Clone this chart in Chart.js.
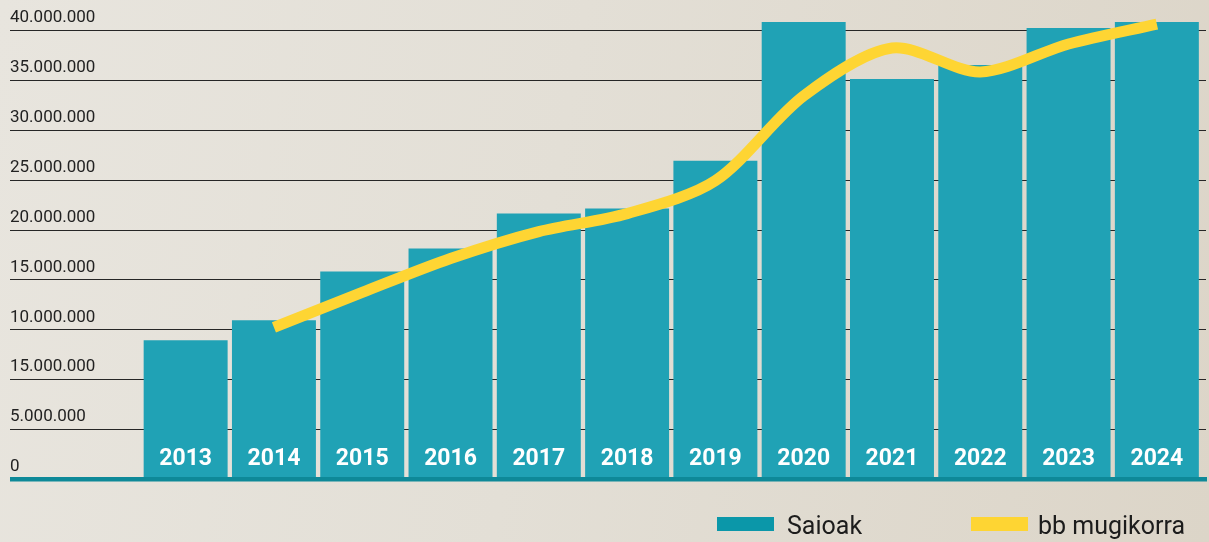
<!DOCTYPE html>
<html>
<head>
<meta charset="utf-8">
<script src="https://cdn.jsdelivr.net/npm/chart.js@4.4.1/dist/chart.umd.min.js"></script>
<style>
  html, body { margin: 0; padding: 0; }
  body {
    width: 1209px; height: 542px; overflow: hidden; position: relative;
    background: linear-gradient(100deg, #e8e5de 0%, #e3dfd6 45%, #dcd5c8 100%);
    font-family: Roboto, "DejaVu Sans", sans-serif;
  }
  #wrap { position: absolute; left: 0; top: 0; width: 1209px; height: 542px; }
  .box { position: absolute; width: 57px; height: 14px; }
  .txt { position: absolute; font-size: 25px; color: #1c1c1c; line-height: 1; white-space: nowrap; }
</style>
</head>
<body>
<div id="wrap"><canvas id="c" width="1209" height="542"></canvas></div>
<div class="box" style="left:717px; top:517px; background:#0b97a9;"></div>
<div class="txt" style="left:787px; top:513px;">Saioak</div>
<div class="box" style="left:971px; top:517px; background:#fed533;"></div>
<div class="txt" style="left:1038px; top:513px;">bb mugikorra</div>
<script>
// ---- data (values in the chart's own linear units) ----
const years = ["2013","2014","2015","2016","2017","2018","2019","2020","2021","2022","2023","2024"];
const saioak = [13.9e6, 15.9e6, 20.8e6, 23.1e6, 26.6e6, 27.1e6, 31.9e6, 45.8e6, 40.1e6, 41.5e6, 45.2e6, 45.8e6];
const bbMugikorra = [null, 15.2e6, 18.7e6, 22.1e6, 24.8e6, 26.6e6, 29.9e6, 38.4e6, 43.2e6, 40.8e6, 43.6e6, 45.6e6];
// tick labels as printed in the original (bottom to top)
const yTickLabels = ["0","5.000.000","15.000.000","10.000.000","15.000.000","20.000.000","25.000.000","30.000.000","35.000.000","40.000.000"];
const yStep = 5e6;

const gridPlugin = {
  id: 'fullGrid',
  beforeDatasetsDraw(chart) {
    const y = chart.scales.y, ctx = chart.ctx;
    ctx.save();
    ctx.strokeStyle = '#262626';
    ctx.lineWidth = 1.2;
    y.ticks.forEach(t => {
      if (t.value <= 0) return;
      const py = Math.round(y.getPixelForValue(t.value)) + 0.5;
      ctx.beginPath(); ctx.moveTo(10, py); ctx.lineTo(1206, py); ctx.stroke();
    });
    ctx.restore();
  },
  afterDatasetsDraw(chart) {
    const x = chart.scales.x, y = chart.scales.y, ctx = chart.ctx;
    const p0 = y.getPixelForValue(0);
    ctx.save();
    ctx.fillStyle = '#0e8998';
    ctx.fillRect(10, p0 - 2, 1197, 4.5);
    // category labels drawn inside the bars, at the x scale's positions
    ctx.fillStyle = '#ffffff';
    ctx.font = 'bold 23px Roboto';
    ctx.textAlign = 'center';
    ctx.textBaseline = 'alphabetic';
    chart.data.labels.forEach((lab, i) => {
      ctx.fillText(lab, x.getPixelForValue(i), p0 - 14.5);
    });
    ctx.restore();
  }
};

new Chart(document.getElementById('c'), {
  data: {
    labels: years,
    datasets: [
      {
        type: 'line', label: 'bb mugikorra', data: bbMugikorra, order: 0,
        borderColor: '#fed533', borderWidth: 11, tension: 0.3, pointRadius: 0,
        borderCapStyle: 'butt', fill: false, spanGaps: false, clip: false
      },
      {
        type: 'bar', label: 'Saioak', data: saioak, order: 1,
        backgroundColor: '#20a2b5', borderWidth: 0, clip: false,
        barPercentage: 0.951, categoryPercentage: 1.0
      }
    ]
  },
  options: {
    responsive: false, animation: false,
    layout: { padding: { left: 10, right: 8, top: 30, bottom: 0 } },
    plugins: { legend: { display: false }, tooltip: { enabled: false } },
    scales: {
      x: {
        type: 'category',
        grid: { display: false, drawTicks: false },
        border: { display: false },
        afterFit(scale) { scale.height = 63; },
        ticks: { display: false }
      },
      y: {
        type: 'linear', min: 0, max: 45e6,
        grid: { display: false, drawTicks: false },
        border: { display: false },
        afterFit(scale) { scale.width = 131.5; },
        ticks: {
          stepSize: yStep, padding: 0, crossAlign: 'far', labelOffset: -12, autoSkip: false,
          color: '#222222', font: { family: 'Roboto', size: 17 },
          callback: (v) => yTickLabels[Math.round(v / yStep)]
        }
      }
    }
  },
  plugins: [gridPlugin]
});
</script>
</body>
</html>
